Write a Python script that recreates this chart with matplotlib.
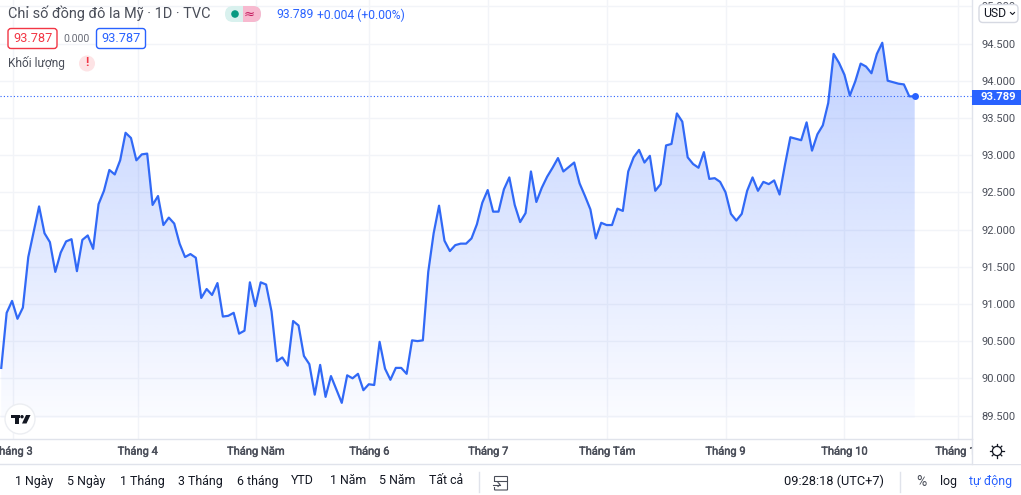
import numpy as np
import matplotlib
matplotlib.use('Agg')
import matplotlib.pyplot as plt
import matplotlib.patheffects as pe
from matplotlib.patches import Rectangle, Circle, FancyBboxPatch, Polygon

plt.rcParams['font.family'] = ['Roboto', 'DejaVu Sans']

# daily closes
prices = [90.14, 90.88, 91.04, 90.80, 90.95, 91.63, 91.97, 92.31, 91.95, 91.83,
          91.43, 91.69, 91.84, 91.87, 91.44, 91.86, 91.92, 91.74, 92.34, 92.52,
          92.80, 92.74, 92.93, 93.30, 93.23, 92.93, 93.01, 93.02, 92.33, 92.45,
          92.06, 92.16, 92.08, 91.81, 91.63, 91.67, 91.62, 91.08, 91.20, 91.12,
          91.28, 90.83, 90.84, 90.88, 90.60, 90.64, 91.29, 90.97, 91.29, 91.26,
          90.90, 90.23, 90.28, 90.17, 90.77, 90.71, 90.30, 90.19, 89.78, 90.18,
          89.75, 90.03, 89.85, 89.67, 90.04, 90.00, 90.06, 89.84, 89.92, 89.91,
          90.49, 90.13, 89.98, 90.14, 90.14, 90.06, 90.51, 90.50, 90.51, 91.43,
          91.95, 92.32, 91.85, 91.71, 91.79, 91.81, 91.81, 91.88, 92.07, 92.36,
          92.53, 92.24, 92.24, 92.54, 92.70, 92.33, 92.10, 92.22, 92.78, 92.37,
          92.56, 92.71, 92.83, 92.96, 92.78, 92.84, 92.90, 92.62, 92.45, 92.27,
          91.88, 92.09, 92.06, 92.06, 92.28, 92.25, 92.78, 92.97, 93.07, 92.90,
          92.99, 92.52, 92.61, 93.13, 93.15, 93.56, 93.45, 92.97, 92.88, 92.83,
          93.04, 92.68, 92.69, 92.64, 92.50, 92.21, 92.12, 92.21, 92.52, 92.70,
          92.52, 92.64, 92.61, 92.66, 92.47, 92.87, 93.24, 93.22, 93.20, 93.44,
          93.06, 93.28, 93.40, 93.70, 94.36, 94.24, 94.08, 93.80, 93.99, 94.23,
          94.19, 94.10, 94.36, 94.51, 94.00, 93.98, 93.96, 93.95, 93.79, 93.789]

price_ticks = [89.5, 90.0, 90.5, 91.0, 91.5, 92.0, 92.5, 93.0, 93.5, 94.0, 94.5, 95.0]
month_labels = ['Tháng 3', 'Tháng 4', 'Tháng Năm', 'Tháng 6', 'Tháng 7', 'Tháng Tám',
                'Tháng 9', 'Tháng 10', 'Tháng 11']
month_days = [2.1, 25.25, 47.1, 68.1, 90.1, 112.1, 134, 156, 177.1]

range_labels = ['1 Ngày', '5 Ngày', '1 Tháng', '3 Tháng', '6 tháng', 'YTD', '1 Năm', '5 Năm', 'Tất cả']
range_left = [15, 67, 120, 178, 237, 291, 330, 379, 429]

W, H = 1021, 495
BLUE = '#2962ff'
LINE = '#3169f6'
GRID = '#f2f4f8'
BORDER = '#e0e3eb'
TEXT = '#131722'
GREY = '#4a4e59'

fig = plt.figure(figsize=(W / 100, H / 100), dpi=100)
ax = fig.add_axes([0, (H - 439) / H, 972 / W, 439 / H])

step = 5.405
n = len(prices)
x = np.arange(n)
right = n - 1 + (972 - 914.7) / step
left = right - 972 / step
ymax = 94.5 + 43.5 / 74.4
ymin = 94.5 - 395.5 / 74.4

# gradient under the line
floor = 89.46
grad = np.zeros((256, 2, 4))
grad[..., 0] = 41 / 255
grad[..., 1] = 98 / 255
grad[..., 2] = 1.0
grad[..., 3] = np.linspace(0.29, 0.02, 256)[:, None]
area = ax.fill_between(x, prices, floor, facecolor='none', edgecolor='none')
im = ax.imshow(grad, extent=[x[0], x[-1], floor, 94.55], aspect='auto', zorder=2, interpolation='bilinear')
im.set_clip_path(area.get_paths()[0], transform=ax.transData)

ax.plot(x, prices, color=LINE, lw=1.6, zorder=3, solid_joinstyle='round')
ax.axhline(prices[-1], color=BLUE, lw=0.8, ls=(0, (1, 2)), zorder=3)
ax.plot(x[-1], prices[-1], 'o', color=BLUE, ms=5, mew=0, zorder=4)

ax.set_xlim(left, right)
ax.set_ylim(ymin, ymax)
ax.set_yticks(price_ticks)
ax.set_yticklabels(['%.3f' % p for p in price_ticks])
ax.set_xticks(month_days)
ax.set_xticklabels(month_labels)
ax.yaxis.tick_right()
ax.tick_params(axis='y', length=0, pad=6.5, labelsize=8, labelcolor=GREY)
ax.tick_params(axis='x', length=0, pad=5.5, labelsize=8, labelcolor=GREY)
for lab in ax.get_xticklabels():
    lab.set_path_effects([pe.withStroke(linewidth=0.3, foreground=GREY)])
ax.grid(True, color=GRID, lw=1, zorder=1)
ax.set_axisbelow(True)
for side in ['top', 'left']:
    ax.spines[side].set_visible(False)
for side in ['right', 'bottom']:
    ax.spines[side].set_color(BORDER)
    ax.spines[side].set_linewidth(1)

# everything around the plot, placed in pixels
ui = fig.add_axes([0, 0, 1, 1], facecolor='none')
ui.set_xlim(0, W)
ui.set_ylim(H, 0)
ui.axis('off')

def label(px, py, s, size=8.6, color=TEXT, ha='left', **kw):
    ui.text(px, py, s, fontsize=size, color=color, ha=ha, va='center', **kw)

def box(px, py, w, h, face, edge, r=3, lw=1):
    ui.add_patch(FancyBboxPatch((px + r, py + r), w - 2 * r, h - 2 * r, boxstyle='round,pad=%d' % r,
                                facecolor=face, edgecolor=edge, lw=lw))

label(8, 13, 'Chỉ số đồng đô la Mỹ · 1D · TVC', size=10.45, color=GREY)
box(225, 6, 36, 16, '#d9f1ee', 'none', r=8, lw=0)
ui.add_patch(Rectangle((243, 6), 10, 16, facecolor='#f7b9cf', edgecolor='none'))
box(245, 6, 16, 16, '#f7b9cf', 'none', r=8, lw=0)
ui.add_patch(Circle((235, 14), 3.8, facecolor='#089981', edgecolor='none'))
label(249, 14, '≈', size=9.5, color='#c2185b', ha='center', family=['DejaVu Sans'])
label(276, 15, '93.789', size=8.7, color=BLUE)
label(317, 15, '+0.004 (+0.00%)', size=8.7, color=BLUE)

box(8, 28.5, 49, 20, 'white', '#f23645')
label(32.5, 38.5, '93.787', size=9.2, color='#f23645', ha='center')
label(76, 39, '0.000', size=7.6, color='#6a6d78', ha='center')
box(96.5, 28.5, 49, 20, 'white', BLUE)
label(121, 38.5, '93.787', size=9.2, color=BLUE, ha='center')
label(8, 63.5, 'Khối lượng', size=8.6, color=GREY)
ui.add_patch(Circle((87, 63.5), 8, facecolor='#fde3e5', edgecolor='none'))
label(87, 63, '!', size=9, color='#f23645', ha='center', fontweight='bold')

# price scale: USD button and last price tag
box(979, 4.5, 39, 18, 'white', '#d6d9e2', r=4)
label(983, 13.5, 'USD', size=8.8, color=TEXT)
ui.plot([1010.5, 1012.5, 1014.5], [12.5, 14.5, 12.5], color=TEXT, lw=0.8)
ui.add_patch(Rectangle((972, 89.5), 49, 15.5, facecolor=BLUE, edgecolor='none'))
label(998, 97.5, '93.789', size=8.1, color='white', ha='center', fontweight='bold')

# time scale corner, covers the cut off last month
ui.add_patch(Rectangle((972.5, 440), 49, 23.5, facecolor='white', edgecolor='none', zorder=3))
ui.plot([972, 972], [439, 464], color=BORDER, lw=1, zorder=4)
ui.add_patch(Circle((997, 451), 4.6, facecolor='white', edgecolor=TEXT, lw=0.9, zorder=4))
for a in np.arange(0, 360, 45):
    dx, dy = np.cos(np.radians(a)), np.sin(np.radians(a))
    ui.plot([997 + 4.6 * dx, 997 + 6.8 * dx], [451 + 4.6 * dy, 451 + 6.8 * dy], color=TEXT, lw=0.9, zorder=4)
ui.plot([0, W], [464, 464], color=BORDER, lw=1)

# logo badge
ui.add_patch(Circle((20, 419), 15, facecolor='white', edgecolor='#eceef2', lw=1))
ui.add_patch(Rectangle((11, 415), 9, 3, facecolor='#131722', edgecolor='none'))
ui.add_patch(Rectangle((14.5, 415), 4, 8.5, facecolor='#131722', edgecolor='none'))
ui.add_patch(Circle((22, 416.7), 1.7, facecolor='#131722', edgecolor='none'))
ui.add_patch(Polygon([(26, 415), (30.5, 415), (26.5, 423.5), (22, 423.5)], facecolor='#131722', edgecolor='none'))

# bottom bar
for s, px in zip(range_labels, range_left):
    label(px, 481, s, size=8.9)
ui.plot([478.5, 478.5], [472, 492], color=BORDER, lw=1)
ui.add_patch(FancyBboxPatch((495, 477), 12, 12.5, boxstyle='round,pad=0.5', facecolor='none', edgecolor='#4a4e59', lw=0.8))
ui.plot([495, 507], [481, 481], color='#4a4e59', lw=0.8)
ui.add_patch(Rectangle((491, 482), 9, 5, facecolor='white', edgecolor='none'))
ui.plot([493, 500], [484.5, 484.5], color='#4a4e59', lw=0.8)
ui.plot([498, 500, 498], [482.5, 484.5, 486.5], color='#4a4e59', lw=0.8)

label(784, 481, '09:28:18 (UTC+7)', size=9.2)
ui.plot([899.5, 899.5], [472, 492], color=BORDER, lw=1)
label(916, 482, '%', size=10, color=GREY)
label(940, 481, 'log', size=8.9)
label(969, 481, 'tự động', size=8.9, color=BLUE)

fig.savefig('out.png', dpi=100)
